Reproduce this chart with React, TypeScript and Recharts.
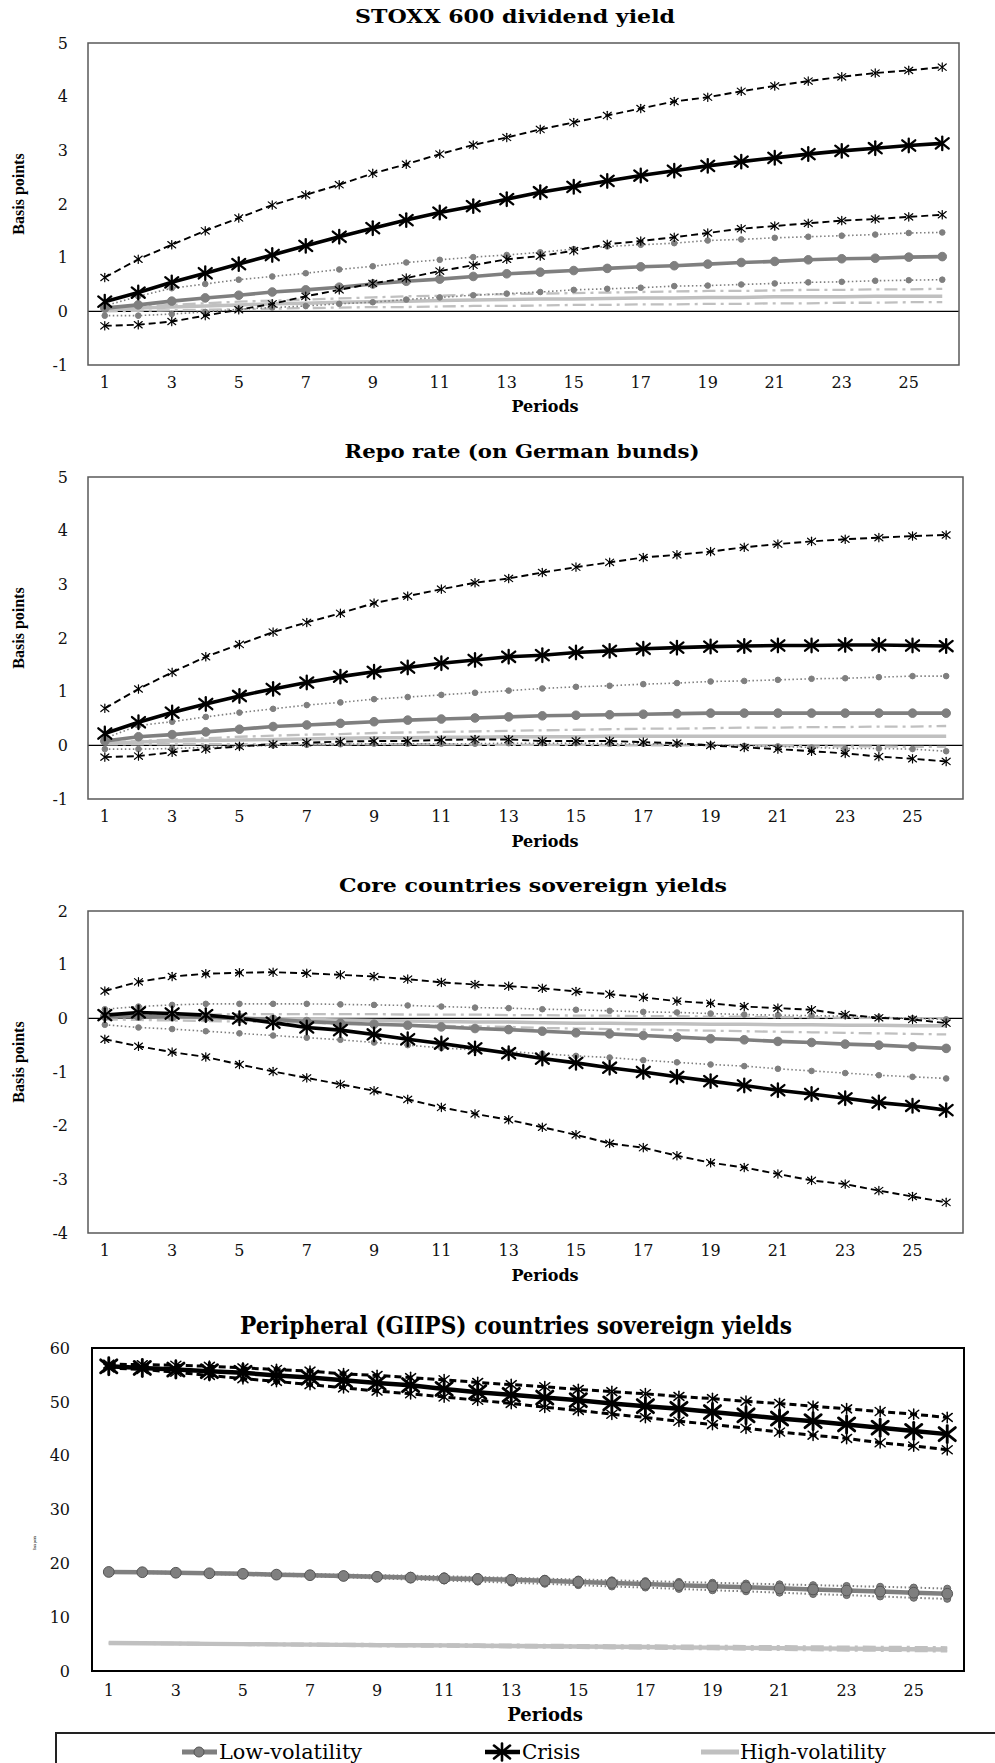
import React from "react";
import { LineChart, Line, XAxis, YAxis, ReferenceLine } from "recharts";

const SERIF = "'DejaVu Serif', serif";
const TIMES = "'Liberation Serif', serif";
const GREY = "#7f7f7f";
const LIGHT = "#c0c0c0";

const periods = [1, 2, 3, 4, 5, 6, 7, 8, 9, 10, 11, 12, 13, 14, 15, 16, 17, 18, 19, 20, 21, 22, 23, 24, 25, 26];

// STOXX 600 dividend yield
const stoxxLow = [0.06, 0.12, 0.19, 0.25, 0.3, 0.36, 0.4, 0.45, 0.51, 0.56, 0.6, 0.65, 0.7, 0.73, 0.76, 0.8, 0.83, 0.85, 0.88, 0.91, 0.93, 0.96, 0.98, 0.99, 1.01, 1.02];
const stoxxLowUp = [0.1, 0.28, 0.43, 0.51, 0.59, 0.65, 0.71, 0.78, 0.84, 0.91, 0.96, 1.01, 1.05, 1.1, 1.16, 1.21, 1.24, 1.27, 1.32, 1.34, 1.37, 1.39, 1.41, 1.43, 1.46, 1.47];
const stoxxLowDn = [-0.08, -0.08, -0.05, -0.01, 0.04, 0.07, 0.1, 0.14, 0.17, 0.22, 0.26, 0.3, 0.33, 0.36, 0.4, 0.42, 0.44, 0.47, 0.48, 0.5, 0.52, 0.54, 0.55, 0.57, 0.58, 0.59];
const stoxxCrisis = [0.18, 0.35, 0.54, 0.71, 0.88, 1.05, 1.22, 1.39, 1.55, 1.7, 1.84, 1.96, 2.09, 2.22, 2.32, 2.43, 2.53, 2.62, 2.71, 2.79, 2.86, 2.93, 2.99, 3.04, 3.09, 3.13];
const stoxxCrisisUp = [0.63, 0.97, 1.24, 1.5, 1.74, 1.98, 2.17, 2.36, 2.57, 2.74, 2.93, 3.1, 3.24, 3.39, 3.52, 3.65, 3.78, 3.91, 3.99, 4.1, 4.2, 4.29, 4.37, 4.44, 4.49, 4.55];
const stoxxCrisisDn = [-0.27, -0.25, -0.19, -0.08, 0.03, 0.14, 0.28, 0.4, 0.52, 0.62, 0.75, 0.86, 0.97, 1.03, 1.13, 1.25, 1.31, 1.38, 1.46, 1.54, 1.59, 1.64, 1.69, 1.72, 1.76, 1.8];
const stoxxHigh = [0.03, 0.06, 0.08, 0.1, 0.12, 0.14, 0.15, 0.17, 0.18, 0.19, 0.2, 0.21, 0.22, 0.23, 0.23, 0.24, 0.25, 0.25, 0.26, 0.26, 0.27, 0.27, 0.27, 0.28, 0.28, 0.28];
const stoxxHighUp = [0.05, 0.09, 0.12, 0.15, 0.18, 0.2, 0.22, 0.24, 0.26, 0.28, 0.29, 0.31, 0.32, 0.33, 0.34, 0.35, 0.36, 0.37, 0.38, 0.38, 0.39, 0.4, 0.4, 0.41, 0.41, 0.42];
const stoxxHighDn = [0.0, 0.01, 0.02, 0.03, 0.04, 0.05, 0.06, 0.07, 0.08, 0.08, 0.09, 0.1, 0.1, 0.11, 0.12, 0.12, 0.13, 0.13, 0.14, 0.14, 0.15, 0.15, 0.16, 0.16, 0.17, 0.17];

// Repo rate (on German bunds)
const repoLow = [0.08, 0.16, 0.2, 0.25, 0.3, 0.35, 0.38, 0.41, 0.44, 0.47, 0.49, 0.51, 0.53, 0.55, 0.56, 0.57, 0.58, 0.59, 0.6, 0.6, 0.6, 0.6, 0.6, 0.6, 0.6, 0.6];
const repoLowUp = [0.13, 0.37, 0.44, 0.53, 0.61, 0.68, 0.75, 0.8, 0.86, 0.9, 0.94, 0.98, 1.02, 1.06, 1.09, 1.11, 1.14, 1.16, 1.19, 1.2, 1.22, 1.24, 1.25, 1.27, 1.29, 1.29];
const repoLowDn = [-0.07, -0.07, -0.06, -0.04, -0.02, 0.0, 0.01, 0.02, 0.03, 0.03, 0.03, 0.03, 0.04, 0.04, 0.04, 0.03, 0.03, 0.02, 0.01, -0.01, -0.02, -0.04, -0.06, -0.06, -0.07, -0.11];
const repoCrisis = [0.22, 0.43, 0.61, 0.77, 0.92, 1.05, 1.17, 1.28, 1.37, 1.45, 1.53, 1.59, 1.65, 1.68, 1.73, 1.76, 1.8, 1.82, 1.84, 1.85, 1.86, 1.86, 1.87, 1.87, 1.86, 1.85];
const repoCrisisUp = [0.69, 1.05, 1.36, 1.65, 1.88, 2.11, 2.29, 2.46, 2.65, 2.78, 2.91, 3.03, 3.11, 3.22, 3.32, 3.41, 3.5, 3.55, 3.61, 3.69, 3.75, 3.8, 3.84, 3.87, 3.9, 3.92];
const repoCrisisDn = [-0.22, -0.2, -0.13, -0.07, -0.02, 0.02, 0.05, 0.07, 0.08, 0.08, 0.1, 0.11, 0.11, 0.08, 0.08, 0.08, 0.06, 0.04, 0.0, -0.04, -0.07, -0.11, -0.15, -0.21, -0.25, -0.3];
const repoHigh = [0.04, 0.06, 0.08, 0.09, 0.1, 0.11, 0.12, 0.13, 0.14, 0.14, 0.15, 0.15, 0.16, 0.16, 0.16, 0.17, 0.17, 0.17, 0.17, 0.17, 0.17, 0.17, 0.17, 0.17, 0.17, 0.17];
const repoHighUp = [0.05, 0.08, 0.11, 0.13, 0.16, 0.18, 0.2, 0.21, 0.23, 0.24, 0.25, 0.26, 0.27, 0.28, 0.29, 0.3, 0.31, 0.31, 0.32, 0.33, 0.33, 0.34, 0.34, 0.35, 0.35, 0.36];
const repoHighDn = [0.02, 0.02, 0.02, 0.02, 0.02, 0.02, 0.02, 0.02, 0.02, 0.02, 0.02, 0.01, 0.01, 0.01, 0.01, 0.0, 0.0, 0.0, 0.0, -0.01, -0.01, -0.02, -0.02, -0.02, -0.03, -0.03];

// Core countries sovereign yields
const coreLow = [0.04, 0.04, 0.03, 0.02, 0.0, -0.02, -0.06, -0.09, -0.11, -0.13, -0.16, -0.19, -0.21, -0.24, -0.27, -0.29, -0.32, -0.35, -0.38, -0.4, -0.43, -0.45, -0.48, -0.5, -0.53, -0.56];
const coreLowUp = [0.17, 0.22, 0.25, 0.27, 0.27, 0.27, 0.27, 0.26, 0.25, 0.24, 0.22, 0.2, 0.19, 0.17, 0.16, 0.14, 0.12, 0.11, 0.09, 0.07, 0.06, 0.05, 0.04, 0.02, 0.0, -0.02];
const coreLowDn = [-0.12, -0.17, -0.2, -0.24, -0.28, -0.32, -0.36, -0.4, -0.45, -0.5, -0.55, -0.59, -0.62, -0.66, -0.7, -0.73, -0.78, -0.82, -0.86, -0.89, -0.94, -0.98, -1.02, -1.06, -1.09, -1.12];
const coreCrisis = [0.06, 0.11, 0.09, 0.06, 0.0, -0.08, -0.17, -0.22, -0.3, -0.39, -0.47, -0.56, -0.65, -0.75, -0.83, -0.92, -1.0, -1.09, -1.17, -1.25, -1.34, -1.41, -1.49, -1.57, -1.63, -1.71];
const coreCrisisUp = [0.51, 0.68, 0.78, 0.83, 0.85, 0.86, 0.84, 0.81, 0.78, 0.73, 0.67, 0.63, 0.6, 0.56, 0.5, 0.45, 0.39, 0.32, 0.28, 0.22, 0.19, 0.16, 0.07, 0.01, -0.02, -0.09];
const coreCrisisDn = [-0.39, -0.52, -0.63, -0.72, -0.86, -0.99, -1.11, -1.23, -1.35, -1.51, -1.66, -1.78, -1.89, -2.03, -2.17, -2.33, -2.41, -2.56, -2.69, -2.78, -2.9, -3.02, -3.09, -3.21, -3.32, -3.43];
const coreHigh = [0.03, 0.03, 0.02, 0.01, 0.0, -0.01, -0.02, -0.03, -0.04, -0.05, -0.06, -0.07, -0.07, -0.08, -0.09, -0.09, -0.1, -0.1, -0.11, -0.11, -0.12, -0.12, -0.13, -0.13, -0.14, -0.14];
const coreHighUp = [0.05, 0.06, 0.07, 0.07, 0.08, 0.08, 0.08, 0.08, 0.08, 0.07, 0.07, 0.07, 0.06, 0.06, 0.05, 0.05, 0.04, 0.04, 0.03, 0.03, 0.02, 0.02, 0.01, 0.01, 0.0, 0.0];
const coreHighDn = [-0.02, -0.03, -0.04, -0.05, -0.06, -0.07, -0.08, -0.1, -0.11, -0.12, -0.14, -0.15, -0.16, -0.18, -0.19, -0.2, -0.21, -0.22, -0.23, -0.24, -0.25, -0.26, -0.27, -0.28, -0.29, -0.3];

// Peripheral (GIIPS) countries sovereign yields
const giipsLow = [18.4, 18.35, 18.25, 18.15, 18.05, 17.9, 17.8, 17.65, 17.5, 17.35, 17.2, 17.1, 16.95, 16.75, 16.55, 16.35, 16.15, 15.95, 15.75, 15.55, 15.35, 15.15, 14.95, 14.75, 14.55, 14.35];
const giipsLowUp = [18.5, 18.45, 18.4, 18.3, 18.2, 18.1, 18.0, 17.9, 17.8, 17.7, 17.6, 17.45, 17.3, 17.15, 17.0, 16.85, 16.7, 16.55, 16.4, 16.25, 16.1, 15.95, 15.8, 15.65, 15.5, 15.3];
const giipsLowDn = [18.3, 18.2, 18.1, 18.0, 17.85, 17.7, 17.55, 17.4, 17.2, 17.0, 16.8, 16.6, 16.4, 16.2, 15.95, 15.7, 15.5, 15.25, 15.0, 14.8, 14.55, 14.3, 14.1, 13.85, 13.6, 13.4];
const giipsCrisis = [56.6, 56.3, 56.0, 55.7, 55.4, 54.9, 54.5, 54.0, 53.5, 53.1, 52.4, 51.8, 51.3, 50.8, 50.3, 49.7, 49.2, 48.7, 48.1, 47.5, 46.9, 46.4, 45.8, 45.2, 44.6, 44.0];
const giipsCrisisUp = [57.0, 56.9, 56.8, 56.6, 56.3, 56.0, 55.7, 55.2, 54.9, 54.5, 54.1, 53.6, 53.2, 52.8, 52.3, 51.9, 51.5, 51.0, 50.6, 50.1, 49.7, 49.2, 48.7, 48.2, 47.7, 47.1];
const giipsCrisisDn = [56.3, 56.0, 55.5, 54.9, 54.3, 53.8, 53.2, 52.6, 52.0, 51.5, 50.9, 50.3, 49.7, 49.0, 48.4, 47.7, 47.1, 46.4, 45.8, 45.1, 44.4, 43.8, 43.2, 42.4, 41.8, 41.1];
const giipsHigh = [5.2, 5.15, 5.1, 5.05, 5.0, 4.95, 4.9, 4.85, 4.8, 4.78, 4.75, 4.7, 4.65, 4.6, 4.55, 4.5, 4.45, 4.4, 4.35, 4.3, 4.25, 4.2, 4.15, 4.1, 4.05, 4.0];
const giipsHighUp = [5.25, 5.2, 5.18, 5.13, 5.1, 5.05, 5.02, 4.98, 4.95, 4.93, 4.9, 4.87, 4.83, 4.8, 4.76, 4.72, 4.69, 4.65, 4.62, 4.58, 4.55, 4.51, 4.47, 4.43, 4.4, 4.35];
const giipsHighDn = [5.15, 5.1, 5.03, 4.97, 4.9, 4.85, 4.78, 4.72, 4.66, 4.62, 4.58, 4.52, 4.46, 4.4, 4.34, 4.28, 4.22, 4.16, 4.1, 4.04, 3.98, 3.92, 3.86, 3.82, 3.76, 3.7];

const basisTicks = [-1, 0, 1, 2, 3, 4, 5];
const coreTicks = [-4, -3, -2, -1, 0, 1, 2];
const giipsTicks = [0, 10, 20, 30, 40, 50, 60];

type Series = {
  low: number[]; lowUp: number[]; lowDn: number[];
  crisis: number[]; crisisUp: number[]; crisisDn: number[];
  high: number[]; highUp: number[]; highDn: number[];
};

function rowsOf(s: Series) {
  return periods.map((p, i) => ({
    period: p,
    low: s.low[i], lowUp: s.lowUp[i], lowDn: s.lowDn[i],
    crisis: s.crisis[i], crisisUp: s.crisisUp[i], crisisDn: s.crisisDn[i],
    high: s.high[i], highUp: s.highUp[i], highDn: s.highDn[i],
  }));
}

const circleDot = (r: number, fill: string, stroke: string) => (props: any) => (
  <circle key={`c-${props.index}`} cx={props.cx} cy={props.cy} r={r} fill={fill} stroke={stroke} strokeWidth={1} />
);

function Asterisk({ cx, cy, s, sw }: { cx: number; cy: number; s: number; sw: number }) {
  return (
    <g stroke="#000" strokeWidth={sw} strokeLinecap="round">
      <line x1={cx - s} y1={cy - s * 0.8} x2={cx + s} y2={cy + s * 0.8} />
      <line x1={cx - s} y1={cy + s * 0.8} x2={cx + s} y2={cy - s * 0.8} />
      <line x1={cx} y1={cy - s * 1.05} x2={cx} y2={cy + s * 1.05} />
    </g>
  );
}

const starDot = (s: number, sw: number) => (props: any) => (
  <g key={`s-${props.index}`}>
    {props.cx != null && props.cy != null ? <Asterisk cx={props.cx} cy={props.cy} s={s} sw={sw} /> : null}
  </g>
);

type Plot = { x: number; y: number; w: number; h: number };

function Panel({ series, plot, domain, ticks, big, zeroLine }: { series: Series; plot: Plot; domain: [number, number]; ticks: number[]; big?: boolean; zeroLine?: boolean }) {
  const rows = rowsOf(series);
  const pad = plot.w / 52;
  const k = big ? 1.25 : 1;
  const tickStyle = { fontFamily: SERIF, fontSize: 16, fill: "#111" };
  return (
    <div style={{ position: "absolute", left: 0, top: plot.y - 10 }}>
      <LineChart width={995} height={plot.h + 50} data={rows} margin={{ top: 10, right: 995 - plot.x - plot.w, bottom: 0, left: 0 }}>
        <XAxis dataKey="period" interval={1} axisLine={false} tickLine={false} tickSize={0} tickMargin={big ? 14 : 12} padding={{ left: pad, right: pad }} height={40} tick={tickStyle} />
        <YAxis type="number" domain={domain} ticks={ticks} interval={0} width={plot.x} axisLine={false} tickLine={false} tickSize={0} tickMargin={big ? 22 : 20} tick={tickStyle} allowDataOverflow />
        {zeroLine && <ReferenceLine y={0} stroke="#000" strokeWidth={1.2} />}
        <Line dataKey="highDn" stroke={LIGHT} strokeWidth={2.3 * k} strokeDasharray="13 5 3 5" dot={false} activeDot={false} isAnimationActive={false} />
        <Line dataKey="highUp" stroke={LIGHT} strokeWidth={2.3 * k} strokeDasharray="13 5 3 5" dot={false} activeDot={false} isAnimationActive={false} />
        <Line dataKey="high" stroke={LIGHT} strokeWidth={3.5 * k} dot={false} activeDot={false} isAnimationActive={false} />
        <Line dataKey="lowDn" stroke={GREY} strokeWidth={1.6 * k} strokeDasharray="1.5 2.5" dot={circleDot(2.8 * k, GREY, big ? "#666" : GREY)} activeDot={false} isAnimationActive={false} />
        <Line dataKey="lowUp" stroke={GREY} strokeWidth={1.6 * k} strokeDasharray="1.5 2.5" dot={circleDot(2.8 * k, GREY, big ? "#666" : GREY)} activeDot={false} isAnimationActive={false} />
        <Line dataKey="low" stroke={GREY} strokeWidth={3.6 * k} dot={circleDot(4.3 * k, GREY, big ? "#555" : GREY)} activeDot={false} isAnimationActive={false} />
        <Line dataKey="crisisDn" stroke="#000" strokeWidth={(big ? 2.4 : 1.9) * k} strokeDasharray="7 4" dot={starDot(4 * k, 1.2 * k)} activeDot={false} isAnimationActive={false} />
        <Line dataKey="crisisUp" stroke="#000" strokeWidth={(big ? 2.4 : 1.9) * k} strokeDasharray="7 4" dot={starDot(4 * k, 1.2 * k)} activeDot={false} isAnimationActive={false} />
        <Line dataKey="crisis" stroke="#000" strokeWidth={3.6 * k} dot={starDot(6.5 * k, 2.3 * k)} activeDot={false} isAnimationActive={false} />
      </LineChart>
    </div>
  );
}

const plots: Plot[] = [
  { x: 88, y: 43, w: 871, h: 322 },
  { x: 88, y: 477, w: 875, h: 322 },
  { x: 88, y: 911, w: 875, h: 322 },
  { x: 92, y: 1348, w: 872, h: 323 },
];

const titles = [
  { text: "STOXX 600 dividend yield", cx: 515, base: 23, size: 19, len: 320 },
  { text: "Repo rate (on German bunds)", cx: 522, base: 458, size: 19, len: 355 },
  { text: "Core countries sovereign yields", cx: 533, base: 892, size: 19, len: 388 },
  { text: "Peripheral (GIIPS) countries sovereign yields", cx: 516, base: 1334, size: 24, len: 552 },
];

function Overlay() {
  return (
    <svg width={995} height={1763} style={{ position: "absolute", left: 0, top: 0, pointerEvents: "none" }}>
      {plots.map((p, i) => (
        <rect key={`f${i}`} x={p.x} y={p.y} width={p.w} height={p.h} fill="none" stroke={i === 3 ? "#000" : "#595959"} strokeWidth={i === 3 ? 2 : 1.5} />
      ))}
      {titles.map((t, i) => (
        <text key={`t${i}`} x={t.cx} y={t.base} textAnchor="middle" fontFamily={SERIF} fontWeight="bold" fontSize={t.size} textLength={t.len} lengthAdjust="spacingAndGlyphs" fill="#000">
          {t.text}
        </text>
      ))}
      {[412, 847, 1281].map((b, i) => (
        <text key={`p${i}`} x={545} y={b} textAnchor="middle" fontFamily={SERIF} fontWeight="bold" fontSize={16} fill="#000">Periods</text>
      ))}
      <text x={545} y={1721} textAnchor="middle" fontFamily={SERIF} fontWeight="bold" fontSize={18} fill="#000">Periods</text>
      {[194, 628, 1062].map((c, i) => (
        <text key={`b${i}`} x={18} y={c} transform={`rotate(-90 18 ${c})`} textAnchor="middle" dominantBaseline="central" fontFamily={TIMES} fontWeight="bold" fontSize={16} fill="#000">Basis points</text>
      ))}
      <text x={35} y={1543} transform="rotate(-90 35 1543)" textAnchor="middle" dominantBaseline="central" fontFamily={TIMES} fontSize={3} fill="#000">Basis points</text>

      <rect x={56} y={1733} width={960} height={60} fill="#fff" stroke="#222" strokeWidth={2} />
      <line x1={182} y1={1752} x2={217} y2={1752} stroke={GREY} strokeWidth={5} />
      <circle cx={199} cy={1752} r={5} fill={GREY} stroke="#555" strokeWidth={1} />
      <text x={219} y={1759} fontFamily={SERIF} fontSize={20} textLength={143} lengthAdjust="spacingAndGlyphs" fill="#000">Low-volatility</text>
      <line x1={485} y1={1752} x2={520} y2={1752} stroke="#000" strokeWidth={4.5} />
      <Asterisk cx={502} cy={1752} s={8} sw={2.6} />
      <text x={522} y={1759} fontFamily={SERIF} fontSize={20} fill="#000">Crisis</text>
      <line x1={701} y1={1752} x2={739} y2={1752} stroke={LIGHT} strokeWidth={5} />
      <text x={740} y={1759} fontFamily={SERIF} fontSize={20} textLength={146} lengthAdjust="spacingAndGlyphs" fill="#000">High-volatility</text>
    </svg>
  );
}

export default function App() {
  const stoxx = { low: stoxxLow, lowUp: stoxxLowUp, lowDn: stoxxLowDn, crisis: stoxxCrisis, crisisUp: stoxxCrisisUp, crisisDn: stoxxCrisisDn, high: stoxxHigh, highUp: stoxxHighUp, highDn: stoxxHighDn };
  const repo = { low: repoLow, lowUp: repoLowUp, lowDn: repoLowDn, crisis: repoCrisis, crisisUp: repoCrisisUp, crisisDn: repoCrisisDn, high: repoHigh, highUp: repoHighUp, highDn: repoHighDn };
  const core = { low: coreLow, lowUp: coreLowUp, lowDn: coreLowDn, crisis: coreCrisis, crisisUp: coreCrisisUp, crisisDn: coreCrisisDn, high: coreHigh, highUp: coreHighUp, highDn: coreHighDn };
  const giips = { low: giipsLow, lowUp: giipsLowUp, lowDn: giipsLowDn, crisis: giipsCrisis, crisisUp: giipsCrisisUp, crisisDn: giipsCrisisDn, high: giipsHigh, highUp: giipsHighUp, highDn: giipsHighDn };
  return (
    <div style={{ position: "absolute", left: 0, top: 0, width: 995, height: 1763, background: "#fff", overflow: "hidden" }}>
      <Panel series={stoxx} plot={plots[0]} domain={[-1, 5]} ticks={basisTicks} zeroLine />
      <Panel series={repo} plot={plots[1]} domain={[-1, 5]} ticks={basisTicks} zeroLine />
      <Panel series={core} plot={plots[2]} domain={[-4, 2]} ticks={coreTicks} zeroLine />
      <Panel series={giips} plot={plots[3]} domain={[0, 60]} ticks={giipsTicks} big />
      <Overlay />
    </div>
  );
}
